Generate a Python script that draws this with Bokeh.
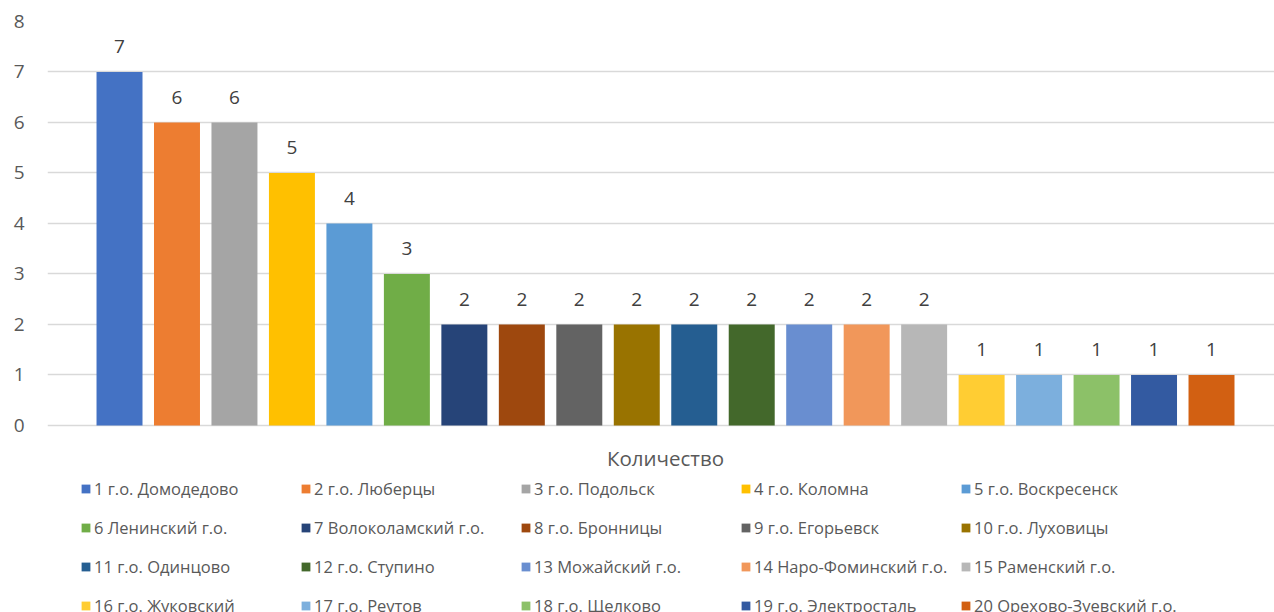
from bokeh.plotting import figure
from bokeh.models import (Range1d, FixedTicker, Legend, LegendItem, ColumnDataSource)
from bokeh.core.properties import value
from bokeh.embed import file_html
from bokeh.resources import INLINE

# ---- data ----
categories = [
    "1 г.о. Домодедово", "2 г.о. Люберцы", "3 г.о. Подольск", "4 г.о. Коломна",
    "5 г.о. Воскресенск", "6 Ленинский г.о.", "7 Волоколамский г.о.", "8 г.о. Бронницы",
    "9 г.о. Егорьевск", "10 г.о. Луховицы", "11 г.о. Одинцово", "12 г.о. Ступино",
    "13 Можайский г.о.", "14 Наро-Фоминский г.о.", "15 Раменский г.о.", "16 г.о. Жуковский",
    "17 г.о. Реутов", "18 г.о. Щелково", "19 г.о. Электросталь", "20 Орехово-Зуевский г.о.",
]
values = [7, 6, 6, 5, 4, 3, 2, 2, 2, 2, 2, 2, 2, 2, 2, 1, 1, 1, 1, 1]
colors = [
    "#4472C4", "#ED7D31", "#A5A5A5", "#FFC000", "#5B9BD5", "#70AD47", "#264478",
    "#9E480E", "#636363", "#997300", "#255E91", "#43682B", "#698ED0", "#F1975A",
    "#B7B7B7", "#FFCD33", "#7CAFDD", "#8CC168", "#335AA1", "#D26012",
]
y_ticks = [0, 1, 2, 3, 4, 5, 6, 7, 8]
axis_title = "Количество"

FONT = "Open Sans"

positions = list(range(1, len(values) + 1))
source = ColumnDataSource(dict(x=positions, top=values, color=colors,
                               name=categories, lbl=[str(v) for v in values]))

# frame covers the area below the baseline as well (for axis title and legend)
p = figure(width=1274, height=612, output_backend="svg", toolbar_location=None,
           x_range=Range1d(-0.253, 21.096), y_range=Range1d(-3.703, 8),
           min_border_left=47, min_border_right=0, min_border_top=21, min_border_bottom=0)
p.outline_line_color = None
p.background_fill_color = "white"
p.border_fill_color = "white"

bars = p.vbar(x="x", top="top", width=0.8, color="color", source=source, line_color=None)
p.text(x="x", y="top", text="lbl", source=source, text_align="center",
       text_baseline="middle", y_offset=-25, text_font=value(FONT),
       text_font_size="19px", text_color="#404040")

# y axis
p.yaxis.ticker = FixedTicker(ticks=y_ticks)
p.yaxis.axis_line_color = None
p.yaxis.major_tick_line_color = None
p.yaxis.minor_tick_line_color = None
p.yaxis.major_tick_out = 0
p.yaxis.major_label_standoff = 23
p.yaxis.major_label_text_font = FONT
p.yaxis.major_label_text_font_size = "19px"
p.yaxis.major_label_text_color = "#595959"

p.ygrid.ticker = FixedTicker(ticks=y_ticks)
p.ygrid.grid_line_color = "#D9D9D9"
p.ygrid.grid_line_width = 1.5
p.xgrid.grid_line_color = None
p.xaxis.visible = False

# category-axis title, centred under the bars
mid_x = (positions[0] + positions[-1]) / 2
p.text(x=[mid_x], y=[-0.634], text=[axis_title], text_align="center",
       text_baseline="middle", text_font=value(FONT), text_font_size="20.5px",
       text_color="#595959")

items = [LegendItem(label=categories[i], renderers=[bars], index=i) for i in range(len(categories))]
legend = Legend(items=items, ncols=5, orientation="horizontal", location=(33, -8),
                glyph_width=11, glyph_height=11, label_standoff=3, label_width=196,
                label_height=29, spacing=10, padding=0, margin=0,
                label_text_font=FONT, label_text_font_size="16.5px",
                label_text_color="#595959", border_line_color=None,
                background_fill_alpha=0)
p.add_layout(legend, "center")

open("out.html", "w").write(file_html(p, INLINE))
